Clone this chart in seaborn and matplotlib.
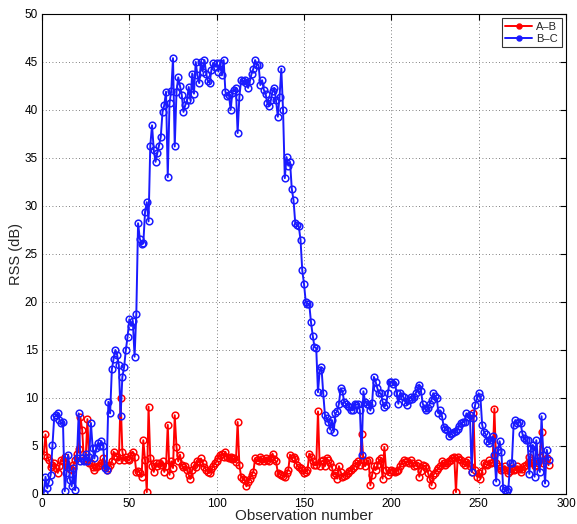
import numpy as np
import pandas as pd
import matplotlib
matplotlib.use("Agg")
import matplotlib.pyplot as plt
import seaborn as sns

# ---- data ----
ab = [
    4.1, 6.2, 3.9, 3.5, 2.8, 3.0, 3.2, 2.7, 2.2, 2.9,
    3.5, 3.4, 3.9, 3.2, 2.8, 2.6, 2.5, 3.0, 3.5, 4.2,
    4.7, 8.0, 6.7, 3.5, 3.7, 7.8, 3.2, 3.2, 2.8, 2.5,
    2.8, 2.9, 3.0, 3.2, 3.7, 3.0, 2.5, 2.7, 3.0, 3.4,
    4.4, 4.0, 3.9, 3.5, 10.0, 4.4, 3.5, 3.9, 3.6, 3.5,
    4.1, 4.4, 3.9, 2.3, 2.4, 2.2, 1.8, 5.6, 3.5, 0.2,
    9.1, 3.7, 2.9, 2.3, 3.2, 2.9, 3.2, 3.0, 3.4, 2.3,
    2.9, 7.2, 2.0, 3.4, 2.7, 8.2, 4.9, 3.4, 4.1, 3.0,
    2.8, 2.9, 2.5, 2.0, 1.6, 2.5, 3.0, 2.8, 3.4, 3.3,
    3.7, 3.2, 2.8, 2.5, 2.3, 2.2, 2.6, 2.9, 3.2, 3.4,
    3.8, 4.1, 4.2, 3.9, 4.4, 3.9, 3.8, 3.9, 3.6, 3.7,
    3.3, 7.5, 3.0, 1.8, 1.6, 1.5, 0.8, 1.3, 1.6, 2.0,
    2.3, 3.7, 3.5, 3.4, 3.9, 3.6, 3.4, 3.7, 3.5, 3.4,
    3.8, 4.2, 3.6, 3.4, 2.2, 2.1, 2.0, 1.9, 1.8, 2.2,
    2.5, 4.1, 3.7, 3.9, 3.6, 3.0, 2.8, 2.7, 2.5, 2.2,
    2.3, 2.5, 4.2, 3.9, 3.4, 3.0, 3.0, 8.6, 2.9, 3.4,
    3.5, 2.9, 3.7, 3.5, 3.2, 2.8, 2.0, 2.2, 1.6, 2.9,
    2.3, 1.8, 1.9, 2.0, 2.2, 2.4, 2.5, 2.7, 2.9, 3.2,
    3.4, 3.0, 6.3, 3.5, 2.9, 3.4, 3.5, 0.9, 2.0, 2.9,
    2.5, 3.0, 3.5, 3.7, 1.6, 4.9, 2.5, 2.0, 2.3, 2.5,
    2.4, 2.3, 2.4, 2.5, 2.9, 3.2, 3.5, 3.3, 3.4, 3.2,
    3.5, 3.2, 2.9, 3.0, 3.2, 1.8, 2.4, 3.0, 2.9, 2.7,
    2.2, 1.6, 0.9, 2.0, 2.2, 2.5, 2.7, 2.9, 3.4, 3.2,
    3.0, 3.2, 3.4, 3.5, 3.7, 3.9, 0.2, 3.9, 3.6, 3.5,
    3.2, 3.0, 3.3, 3.5, 2.9, 2.3, 8.4, 2.5, 1.8, 2.2,
    1.6, 2.4, 3.2, 3.1, 3.0, 3.5, 3.2, 3.3, 8.9, 3.2,
    2.9, 2.7, 2.5, 2.6, 2.9, 2.5, 2.2, 2.4, 2.7, 2.5,
    2.6, 2.9, 2.6, 2.3, 2.6, 2.9, 3.0, 3.2, 3.9, 3.5,
    3.2, 2.9, 3.0, 3.2, 3.9, 6.5, 3.2, 3.5, 3.7, 3.0,
]

bc = [
    0.1, 1.8, 0.6, 1.3, 2.0, 5.1, 8.0, 8.2, 8.4, 7.7,
    7.4, 7.5, 0.3, 2.2, 4.1, 1.5, 0.8, 2.7, 0.4, 3.7,
    8.4, 3.4, 3.7, 3.4, 4.2, 3.4, 3.9, 7.4, 4.8, 3.7,
    4.8, 5.3, 5.0, 5.5, 5.0, 2.7, 2.5, 9.6, 8.4, 13.0,
    14.1, 15.0, 14.5, 13.4, 8.1, 12.2, 13.2, 15.0, 16.4, 18.2,
    17.5, 18.0, 14.3, 18.8, 28.2, 26.6, 26.0, 26.1, 29.4, 30.4,
    28.4, 36.3, 38.4, 35.8, 34.6, 35.5, 36.3, 37.2, 39.8, 40.5,
    41.9, 33.0, 40.7, 42.0, 45.4, 36.2, 41.9, 43.4, 42.5, 41.6,
    39.8, 40.5, 41.0, 42.4, 41.0, 43.8, 41.7, 45.0, 43.6, 42.8,
    45.0, 44.0, 45.2, 43.8, 43.0, 42.8, 44.2, 44.9, 44.5, 44.9,
    44.0, 44.9, 43.6, 45.2, 41.9, 41.5, 41.6, 40.0, 41.8, 42.1,
    42.3, 37.6, 41.4, 43.1, 43.0, 43.1, 42.8, 42.3, 43.0, 43.8,
    44.3, 45.2, 44.7, 44.7, 42.6, 43.1, 42.1, 41.7, 40.7, 40.4,
    41.0, 42.0, 42.3, 41.0, 39.3, 41.4, 44.3, 40.0, 32.9, 35.1,
    34.2, 34.6, 31.8, 30.6, 28.2, 28.0, 27.9, 26.5, 23.3, 21.9,
    20.0, 19.8, 19.8, 17.9, 16.5, 15.3, 15.2, 10.6, 12.9, 13.2,
    10.5, 8.2, 7.9, 7.5, 6.7, 7.7, 6.5, 8.4, 8.6, 9.4,
    11.0, 10.7, 9.6, 9.4, 9.2, 9.1, 8.8, 8.7, 9.4, 9.3,
    9.4, 8.7, 4.1, 10.7, 9.6, 9.4, 9.3, 8.7, 9.5, 12.2,
    11.7, 11.0, 10.5, 10.5, 9.6, 9.1, 9.3, 10.5, 11.7, 11.7,
    11.5, 11.7, 10.5, 9.4, 10.5, 10.2, 10.1, 9.6, 9.3, 9.8,
    10.1, 9.9, 10.1, 10.5, 11.0, 11.4, 10.7, 9.4, 9.0, 8.7,
    9.0, 9.4, 9.8, 10.5, 10.2, 10.0, 8.4, 8.7, 8.1, 7.0,
    6.8, 6.7, 6.0, 6.3, 6.4, 6.5, 6.6, 6.8, 7.1, 7.4,
    7.5, 7.5, 8.4, 8.0, 8.2, 2.3, 7.9, 9.3, 10.0, 10.5,
    10.1, 7.2, 6.5, 6.2, 5.5, 5.3, 5.6, 6.0, 4.1, 1.3,
    4.6, 5.5, 4.4, 0.6, 0.4, 0.3, 0.5, 3.2, 3.2, 7.2,
    7.7, 7.4, 7.5, 7.4, 6.3, 5.8, 5.6, 5.6, 2.1, 4.8,
    5.1, 1.8, 5.6, 3.4, 2.3, 8.1, 4.1, 1.1, 4.6, 3.5,
]

series_names = ["A\u2013B", "B\u2013C"]
x_ticks = [0, 50, 100, 150, 200, 250, 300]
y_ticks = [0, 5, 10, 15, 20, 25, 30, 35, 40, 45, 50]

obs = np.arange(1, len(ab) + 1)

sns.set_style("white")
plt.rcParams['font.family'] = ['Liberation Sans', 'DejaVu Sans']

fig = plt.figure(figsize=(5.77, 5.24), dpi=100)
ax = fig.add_axes([42 / 577, 1 - 494 / 524, 524 / 577, 480 / 524])

for vals, name, col in [(ab, series_names[0], "#ff0000"), (bc, series_names[1], "#1a1aff")]:
    sns.lineplot(x=obs, y=vals, ax=ax, color=col, marker="o", markersize=4.8,
                 markerfacecolor="none", markeredgecolor=col, markeredgewidth=1.1,
                 linewidth=1.4, label=name)

ax.set_xlim(0, 300)
ax.set_ylim(0, 50)
ax.set_xticks(x_ticks)
ax.set_yticks(y_ticks)
ax.tick_params(direction="in", labelsize=8.5, length=4, top=True, right=True,
               colors="black", pad=3)
ax.grid(True, linestyle=(0, (1, 3)), color="#555555", linewidth=0.6)
for s in ax.spines.values():
    s.set_color("black")
    s.set_linewidth(0.8)
ax.set_xlabel("Observation number", fontsize=11, labelpad=-1)
ax.set_ylabel("RSS (dB)", fontsize=10.5, labelpad=1)

leg = ax.legend(loc="upper right", fontsize=8, frameon=True, fancybox=False,
                edgecolor="black", borderaxespad=0.4, handlelength=2.4,
                handletextpad=0.4, borderpad=0.3, labelspacing=0.2)
leg.get_frame().set_linewidth(0.8)
for h in leg.legend_handles:
    h.set_markerfacecolor(h.get_color())
    h.set_markersize(3.5)

fig.savefig("out.png", dpi=100)
